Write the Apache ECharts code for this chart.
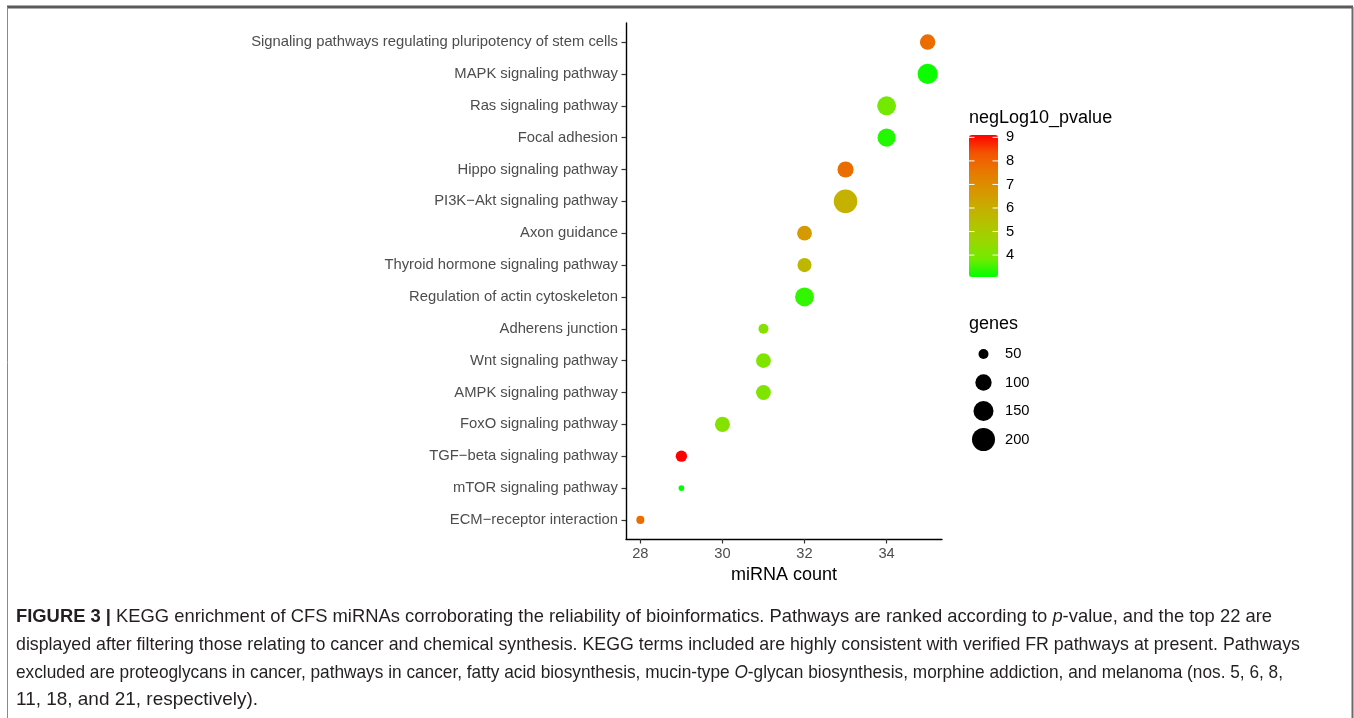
<!DOCTYPE html>
<html><head><meta charset="utf-8">
<script src="https://cdn.jsdelivr.net/npm/echarts@6/dist/echarts.min.js"></script>
<style>html,body{margin:0;padding:0;background:#fff}#c{width:1354px;height:718px}</style>
</head><body><div id="c"></div>
<script>
// ---- data (top to bottom) ----
var pathways = [
  "Signaling pathways regulating pluripotency of stem cells",
  "MAPK signaling pathway",
  "Ras signaling pathway",
  "Focal adhesion",
  "Hippo signaling pathway",
  "PI3K\u2212Akt signaling pathway",
  "Axon guidance",
  "Thyroid hormone signaling pathway",
  "Regulation of actin cytoskeleton",
  "Adherens junction",
  "Wnt signaling pathway",
  "AMPK signaling pathway",
  "FoxO signaling pathway",
  "TGF\u2212beta signaling pathway",
  "mTOR signaling pathway",
  "ECM\u2212receptor interaction"
];
var mirnaCount = [35, 35, 34, 34, 33, 33, 32, 32, 32, 31, 31, 31, 30, 29, 29, 28];
var genes = [91, 152, 133, 123, 98, 210, 84, 78, 133, 50, 84, 84, 87, 57, 40, 43];
var negLog10P = [7.8, 3.15, 3.9, 3.3, 7.8, 5.9, 6.6, 5.7, 3.4, 4.2, 4.1, 4.1, 4.2, 9.1, 3.07, 7.8];
var xTicks = [28, 30, 32, 34];
var colorTicks = [4, 5, 6, 7, 8, 9];
var sizeBreaks = [50, 100, 150, 200];

// ---- helpers ----
var gMin = Math.min.apply(null, genes);
function dotSize(g) { return 5.7 + 1.37 * Math.sqrt(Math.max(0, g - gMin)); }
var pMin = Math.min.apply(null, negLog10P), pMax = Math.max.apply(null, negLog10P);

var FONT = '"Liberation Sans", Arial, sans-serif';
var chart = echarts.init(document.getElementById('c'));

var data = pathways.map(function (p, i) { return [mirnaCount[i], i, genes[i], negLog10P[i]]; });
var yIdx = pathways.map(function (p, i) { return i; });

// colorbar geometry
var cbLeft = 969, cbTop = 135, cbW = 29, cbH = 142;
function cbY(v) { return cbTop + (pMax - v) / (pMax - pMin) * cbH; }

var graphics = [];
// frame
graphics.push({ type: 'line', shape: { x1: 7, y1: 7, x2: 1353, y2: 7 }, style: { stroke: '#5a5a5a', lineWidth: 3 } });
graphics.push({ type: 'line', shape: { x1: 7.5, y1: 7, x2: 7.5, y2: 718 }, style: { stroke: '#8a8a8a', lineWidth: 1 } });
graphics.push({ type: 'line', shape: { x1: 1352.5, y1: 7, x2: 1352.5, y2: 718 }, style: { stroke: '#6a6a6a', lineWidth: 2 } });

// colour legend title + ticks
graphics.push({ type: 'text', x: 969, y: 118, style: { text: 'negLog10_pvalue', font: '18px ' + FONT, fill: '#000', verticalAlign: 'middle' } });
colorTicks.forEach(function (v) {
  var y = cbY(v);
  graphics.push({ type: 'text', x: 1006, y: y, style: { text: String(v), font: '14.7px ' + FONT, fill: '#000', verticalAlign: 'middle' } });
  graphics.push({ type: 'line', z: 100, shape: { x1: cbLeft, y1: y, x2: cbLeft + 5.5, y2: y }, style: { stroke: '#fff', lineWidth: 1 } });
  graphics.push({ type: 'line', z: 100, shape: { x1: cbLeft + cbW - 5.5, y1: y, x2: cbLeft + cbW, y2: y }, style: { stroke: '#fff', lineWidth: 1 } });
});

// size legend
graphics.push({ type: 'text', x: 969, y: 324, style: { text: 'genes', font: '18px ' + FONT, fill: '#000', verticalAlign: 'middle' } });
var sizeY = [354, 382.5, 411, 439.5];
sizeBreaks.forEach(function (g, i) {
  graphics.push({ type: 'circle', shape: { cx: 983.5, cy: sizeY[i], r: dotSize(g) / 2 }, style: { fill: '#000' } });
  graphics.push({ type: 'text', x: 1005, y: sizeY[i], style: { text: String(g), font: '14.7px ' + FONT, fill: '#000', verticalAlign: 'middle' } });
});

// caption
var capSize = 18.5;
var capLines = [
  { y: 617, w: 1256, segs: [['b', 'FIGURE 3 | '], ['n', 'KEGG enrichment of CFS miRNAs corroborating the reliability of bioinformatics. Pathways are ranked according to '], ['i', 'p'], ['n', '-value, and the top 22 are']] },
  { y: 645, w: 1284, segs: [['n', 'displayed after filtering those relating to cancer and chemical synthesis. KEGG terms included are highly consistent with verified FR pathways at present. Pathways']] },
  { y: 673, w: 1267, segs: [['n', 'excluded are proteoglycans in cancer, pathways in cancer, fatty acid biosynthesis, mucin-type '], ['i', 'O'], ['n', '-glycan biosynthesis, morphine addiction, and melanoma (nos. 5, 6, 8,']] },
  { y: 700, w: 242, segs: [['n', '11, 18, and 21, respectively).']] }
];
var mctx = document.createElement('canvas').getContext('2d');
function fontFor(k) { return (k === 'b' ? 'bold ' : k === 'i' ? 'italic ' : '') + capSize + 'px ' + FONT; }
capLines.forEach(function (ln) {
  var w = 0, txt = '';
  ln.segs.forEach(function (s) { mctx.font = fontFor(s[0]); w += mctx.measureText(s[1]).width; txt += '{' + s[0] + '|' + s[1] + '}'; });
  graphics.push({
    type: 'text', x: 16, y: ln.y, scaleX: ln.w / w,
    style: {
      text: txt, verticalAlign: 'middle', fill: '#231f20', font: capSize + 'px ' + FONT,
      rich: {
        b: { fontWeight: 'bold', fontSize: capSize, fontFamily: FONT, fill: '#231f20' },
        n: { fontSize: capSize, fontFamily: FONT, fill: '#231f20' },
        i: { fontStyle: 'italic', fontSize: capSize, fontFamily: FONT, fill: '#231f20' }
      }
    }
  });
});

var option = {
  backgroundColor: '#fff',
  animation: false,
  grid: { left: 626, top: 23, width: 316, height: 516, containLabel: false },
  xAxis: {
    type: 'value', min: 27.65, max: 35.35,
    name: 'miRNA count', nameLocation: 'middle', nameGap: 25,
    nameTextStyle: { fontFamily: FONT, fontSize: 18, color: '#000', verticalAlign: 'top' },
    axisLine: { show: true, onZero: false, lineStyle: { color: '#000', width: 1.4 } },
    axisTick: { show: true, length: 4.5, customValues: xTicks, lineStyle: { color: '#333', width: 1.2 } },
    axisLabel: { customValues: xTicks, margin: 7, fontFamily: FONT, fontSize: 14.7, color: '#4d4d4d' },
    splitLine: { show: false }
  },
  yAxis: {
    type: 'value', min: -0.6, max: 15.6, inverse: true,
    axisLine: { show: true, onZero: false, lineStyle: { color: '#000', width: 1.4 } },
    axisTick: { show: true, length: 4.5, customValues: yIdx, lineStyle: { color: '#333', width: 1.2 } },
    axisLabel: { customValues: yIdx, margin: 8, fontFamily: FONT, fontSize: 14.8, color: '#4d4d4d',
      formatter: function (v) { return pathways[Math.round(v)]; } },
    splitLine: { show: false }
  },
  visualMap: {
    type: 'continuous', dimension: 3, seriesIndex: 0,
    min: pMin, max: pMax, calculable: false, text: null, showLabel: false,
    left: cbLeft, top: cbTop, itemWidth: cbW, itemHeight: cbH, padding: 0,
    inRange: { color: ['#00FF00', '#70EB00', '#9AD700', '#B3C200', '#C9AB00', '#DA9200', '#E87700', '#F45300', '#FF0000'] },
    hoverLink: false
  },
  series: [{
    type: 'scatter',
    data: data,
    encode: { x: 0, y: 1 },
    symbol: 'circle',
    symbolSize: function (v) { return dotSize(v[2]); },
    itemStyle: { opacity: 1 }
  }],
  graphic: graphics
};
chart.setOption(option);
</script>
</body></html>
